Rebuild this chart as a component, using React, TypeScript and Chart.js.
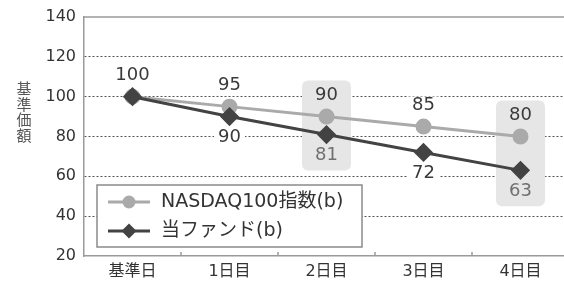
import React, { useEffect, useRef } from "react";
import { Chart, registerables } from "chart.js";

Chart.register(...registerables);

const categories = ["基準日", "1日目", "2日目", "3日目", "4日目"];
const nasdaqValues = [100, 95, 90, 85, 80];
const fundValues = [100, 90, 81, 72, 63];
const seriesNames = ["NASDAQ100指数(b)", "当ファンド(b)"];
const yTickValues = [20, 40, 60, 80, 100, 120, 140];
const highlightIndices = [2, 4];
const yAxisTitle = "基準価額";

const FONT = "'DejaVu Sans', 'Noto Sans CJK JP', sans-serif";
const NASDAQ_COLOR = "#aaaaaa";
const FUND_COLOR = "#434343";

const customPlugin = {
  id: "customDecor",
  beforeDatasetsDraw(chart: any) {
    const { ctx, chartArea, scales } = chart;
    const x = scales.x;
    ctx.save();
    // top border
    ctx.strokeStyle = "#9a9a9a";
    ctx.lineWidth = 1.5;
    ctx.beginPath();
    ctx.moveTo(chartArea.left, chartArea.top);
    ctx.lineTo(chartArea.right, chartArea.top);
    ctx.stroke();
    // inner ticks at category boundaries
    for (let i = 0; i < categories.length - 1; i++) {
      const bx = (x.getPixelForValue(i) + x.getPixelForValue(i + 1)) / 2;
      ctx.beginPath();
      ctx.moveTo(bx, chartArea.bottom);
      ctx.lineTo(bx, chartArea.bottom - 4);
      ctx.stroke();
    }
    const m0 = chart.getDatasetMeta(0).data;
    const m1 = chart.getDatasetMeta(1).data;
    // highlight rects
    ctx.fillStyle = "#e6e6e6";
    highlightIndices.forEach((i) => {
      const px = m0[i].x;
      const top = m0[i].y - 21 - 15;
      const bot = m1[i].y + 21 + 15;
      ctx.beginPath();
      (ctx as any).roundRect(px - 24.5, top, 49, bot - top, 6);
      ctx.fill();
    });
    // labels
    ctx.font = "18px " + FONT;
    ctx.textAlign = "center";
    ctx.textBaseline = "middle";
    const drawLabel = (text: string, lx: number, ly: number, color: string, bg: boolean) => {
      if (bg) {
        const w = ctx.measureText(text).width + 8;
        ctx.fillStyle = "#ffffff";
        ctx.fillRect(lx - w / 2, ly - 9, w, 18);
      }
      ctx.fillStyle = color;
      ctx.fillText(text, lx, ly);
    };
    for (let i = 0; i < categories.length; i++) {
      const hl = highlightIndices.includes(i);
      drawLabel(String(nasdaqValues[i]), m0[i].x, m0[i].y - 21, "#3a3a3a", !hl);
      if (fundValues[i] !== nasdaqValues[i]) {
        drawLabel(String(fundValues[i]), m1[i].x, m1[i].y + 21, hl ? "#707070" : "#3a3a3a", !hl);
      }
    }
    ctx.restore();
  },
  afterDraw(chart: any) {
    const { ctx, chartArea } = chart;
    ctx.save();
    // y axis title, stacked characters
    ctx.font = "15px " + FONT;
    ctx.fillStyle = "#555555";
    ctx.textAlign = "center";
    ctx.textBaseline = "middle";
    const chars = Array.from(yAxisTitle);
    const midY = (chartArea.top + chartArea.bottom) / 2 - 23;
    chars.forEach((c, k) => {
      ctx.fillText(c, 24, midY + (k - (chars.length - 1) / 2) * 15.5);
    });
    // legend box
    const lx = chartArea.left + 13;
    const ly = chartArea.bottom - 71;
    const lw = 265;
    const lh = 62;
    ctx.fillStyle = "#ffffff";
    ctx.fillRect(lx, ly, lw, lh);
    ctx.strokeStyle = "#8a8a8a";
    ctx.lineWidth = 1.5;
    ctx.strokeRect(lx, ly, lw, lh);
    const rows = [
      { name: seriesNames[0], color: NASDAQ_COLOR, style: "circle", r: 6.5, y: ly + 17 },
      { name: seriesNames[1], color: FUND_COLOR, style: "rectRot", r: 7.5, y: ly + 46 },
    ];
    rows.forEach((row) => {
      ctx.strokeStyle = row.color;
      ctx.lineWidth = 3;
      ctx.beginPath();
      ctx.moveTo(lx + 11, row.y);
      ctx.lineTo(lx + 53, row.y);
      ctx.stroke();
      ctx.fillStyle = row.color;
      ctx.beginPath();
      if (row.style === "circle") {
        ctx.arc(lx + 32, row.y, row.r, 0, Math.PI * 2);
      } else {
        ctx.moveTo(lx + 32, row.y - row.r);
        ctx.lineTo(lx + 32 + row.r, row.y);
        ctx.lineTo(lx + 32, row.y + row.r);
        ctx.lineTo(lx + 32 - row.r, row.y);
        ctx.closePath();
      }
      ctx.fill();
      ctx.fillStyle = "#333333";
      ctx.font = "19px " + FONT;
      ctx.textAlign = "left";
      ctx.textBaseline = "middle";
      ctx.fillText(row.name, lx + 64, row.y);
    });
    ctx.restore();
  },
};

export default function App() {
  const canvasRef = useRef<HTMLCanvasElement | null>(null);
  useEffect(() => {
    if (!canvasRef.current) return;
    const chart = new Chart(canvasRef.current, {
      type: "line",
      data: {
        labels: categories,
        datasets: [
          {
            label: seriesNames[0],
            data: nasdaqValues,
            borderColor: NASDAQ_COLOR,
            backgroundColor: NASDAQ_COLOR,
            pointBackgroundColor: NASDAQ_COLOR,
            pointBorderColor: NASDAQ_COLOR,
            pointStyle: "circle",
            pointRadius: 6.5,
            borderWidth: 3,
            order: 1,
          },
          {
            label: seriesNames[1],
            data: fundValues,
            borderColor: FUND_COLOR,
            backgroundColor: FUND_COLOR,
            pointBackgroundColor: FUND_COLOR,
            pointBorderColor: FUND_COLOR,
            pointStyle: "rectRot",
            pointRadius: 7.5,
            borderWidth: 3,
            order: 0,
          },
        ],
      },
      options: {
        animation: false,
        responsive: false,
        devicePixelRatio: 1,
        layout: { autoPadding: false, padding: { top: 17, right: 1, left: 0, bottom: 0 } },
        plugins: { legend: { display: false }, tooltip: { enabled: false } },
        scales: {
          x: {
            type: "category",
            offset: true,
            grid: { display: false, drawTicks: false, offset: true },
            border: { display: true, color: "#9a9a9a", width: 1.5 },
            ticks: { font: { size: 16, family: FONT }, color: "#333333", padding: 6, maxRotation: 0, autoSkip: false },
            afterFit: (s: any) => {
              s.height = 26;
              s.paddingLeft = 0;
              s.paddingRight = 0;
            },
          },
          y: {
            min: 20,
            max: 140,
            afterBuildTicks: (s: any) => {
              s.ticks = yTickValues.map((v) => ({ value: v }));
            },
            grid: {
              drawTicks: false,
              color: (c: any) =>
                c.tick && (c.tick.value === 140 || c.tick.value === 20) ? "rgba(0,0,0,0)" : "#555555",
              lineWidth: 1,
            },
            border: { display: true, color: "#9a9a9a", width: 1.5, dash: [2, 2] },
            ticks: { font: { size: 16, family: FONT }, color: "#333333", padding: 8 },
            afterFit: (s: any) => {
              s.width = 84;
              s.paddingTop = 0;
              s.paddingBottom = 0;
            },
          },
        },
      },
      plugins: [customPlugin],
    } as any);
    return () => chart.destroy();
  }, []);
  return (
    <div style={{ position: "fixed", left: 0, top: 0, width: 564, height: 282, overflow: "hidden", background: "#fff" }}>
      <canvas ref={canvasRef} width={570} height={282} style={{ width: 570, height: 282, display: "block" }} />
    </div>
  );
}
